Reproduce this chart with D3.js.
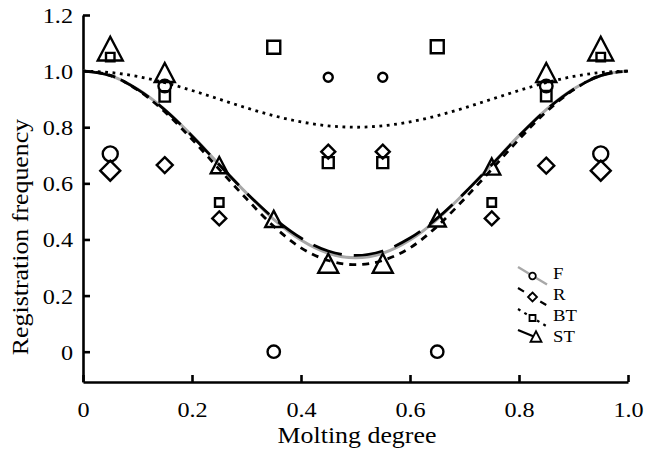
<!DOCTYPE html>
<html>
<head>
<meta charset="utf-8">
<script src="https://cdn.jsdelivr.net/npm/d3@7"></script>
<style>
  html, body { margin: 0; padding: 0; background: #fff; }
  svg { display: block; }
  text { font-family: "Liberation Serif", "Times New Roman", serif; fill: #000; }
</style>
</head>
<body>
<svg id="chart" width="647" height="455"></svg>
<script>
// Centres of the molting-degree classes
const binCenters = [0.05, 0.15, 0.25, 0.35, 0.45, 0.55, 0.65, 0.75, 0.85, 0.95];

// Observed registration frequency per class (null = not registered)
const obsF  = [0.705, 0.947, null, 0, 0.978, 0.978, 0, null, 0.947, 0.705];
const obsR  = [0.645, 0.665, 0.475, null, 0.713, 0.713, null, 0.475, 0.663, 0.645];
const obsBT = [1.05, 0.91, 0.532, 1.085, 0.674, 0.674, 1.087, 0.532, 0.911, 1.05];
const obsST = [1.08, 0.995, 0.665, 0.473, 0.315, 0.315, 0.475, 0.66, 0.995, 1.08];

// Fitted curves, sampled every 0.05 of molting degree
const curveX  = [0, 0.05, 0.1, 0.15, 0.2, 0.25, 0.3, 0.35, 0.4, 0.45, 0.5,
                 0.55, 0.6, 0.65, 0.7, 0.75, 0.8, 0.85, 0.9, 0.95, 1.0];
const fitF  = [1.000, 0.984, 0.936, 0.863, 0.770, 0.667, 0.565, 0.472, 0.398, 0.351, 0.335,
               0.351, 0.398, 0.472, 0.565, 0.667, 0.770, 0.863, 0.936, 0.984, 1.000];
const fitR  = [1.000, 0.985, 0.933, 0.855, 0.757, 0.650, 0.545, 0.447, 0.370, 0.325, 0.310,
               0.325, 0.370, 0.447, 0.545, 0.650, 0.757, 0.855, 0.933, 0.985, 1.000];
const fitBT = [1.000, 0.995, 0.981, 0.959, 0.931, 0.900, 0.869, 0.841, 0.819, 0.805, 0.800,
               0.805, 0.819, 0.841, 0.869, 0.900, 0.931, 0.959, 0.981, 0.995, 1.000];
const fitST = [1.000, 0.984, 0.935, 0.862, 0.769, 0.666, 0.566, 0.476, 0.405, 0.359, 0.343,
               0.359, 0.405, 0.476, 0.566, 0.666, 0.769, 0.862, 0.935, 0.984, 1.000];

// Series names as shown in the legend
const seriesNames = ["F", "R", "BT", "ST"];

// Axis ticks
const xTicks = [0, 0.2, 0.4, 0.6, 0.8, 1.0];
const xTickLabels = ["0", "0.2", "0.4", "0.6", "0.8", "1.0"];
const yTicks = [0, 0.2, 0.4, 0.6, 0.8, 1.0, 1.2];
const yTickLabels = ["0", "0.2", "0.4", "0.6", "0.8", "1.0", "1.2"];

// ---- styling (marker sizes in px, per class) ----
const markerPx = {
  F:  [7.5, 6.3, 0, 6.2, 4.5, 4.5, 6.2, 0, 6.3, 7.5],      // circle radius
  R:  [10, 8, 7, 0, 7, 7, 0, 7, 8, 10],                    // diamond half-diagonal
  BT: [8.5, 10.5, 8.5, 13, 11, 11, 13, 8.5, 10.5, 8.5],    // square side
  ST: [25, 20, 17, 17, 20, 20, 17, 17, 20, 25]             // triangle base
};
const lineStyle = {
  F:  { stroke: "#a8a8a8", width: 3,   dash: null },
  R:  { stroke: "#000",    width: 2.8, dash: "7 6" },
  BT: { stroke: "#000",    width: 2.8, dash: "2.8 4.6" },
  ST: { stroke: "#000",    width: 2.8, dash: "30 12" }
};

const svg = d3.select("#chart");
const x = d3.scaleLinear().domain([0, 1]).range([83, 628]);
const y = d3.scaleLinear().domain([-0.108, 1.2]).range([382, 15]);

// stretch text along its own direction
function widen(sel, k) {
  sel.each(function () {
    const L = this.getComputedTextLength();
    this.setAttribute("textLength", L * k);
    this.setAttribute("lengthAdjust", "spacingAndGlyphs");
  });
}

// axes
const xAxis = d3.axisBottom(x).tickValues(xTicks)
  .tickFormat((d, i) => xTickLabels[i]).tickSizeInner(-7).tickSizeOuter(0).tickPadding(0);
const yAxis = d3.axisLeft(y).tickValues(yTicks)
  .tickFormat((d, i) => yTickLabels[i]).tickSizeInner(-7).tickSizeOuter(0).tickPadding(0);

const gx = svg.append("g").attr("transform", "translate(0,382)").call(xAxis);
const gy = svg.append("g").attr("transform", "translate(83,0)").call(yAxis);
[gx, gy].forEach(g => {
  g.select(".domain").attr("stroke", "#000").attr("stroke-width", 2.6);
  g.selectAll(".tick line").attr("stroke", "#000").attr("stroke-width", 2.6);
  g.selectAll(".tick text").attr("font-size", 22).attr("fill", "#000");
});
gx.selectAll(".tick text").attr("y", 34.5).attr("dy", null);
gy.selectAll(".tick text").attr("x", -10).attr("dy", "0.34em");
widen(gx.selectAll(".tick text"), 1.1);
widen(gy.selectAll(".tick text"), 1.1);

// axis titles
const xt = svg.append("text").attr("x", 357).attr("y", 442.5)
  .attr("text-anchor", "middle").attr("font-size", 22.5).text("Molting degree");
widen(xt, 1.15);
const yt = svg.append("text").attr("transform", "translate(28,237) rotate(-90)")
  .attr("text-anchor", "middle").attr("font-size", 22.5).text("Registration frequency");
widen(yt, 1.15);

// fitted curves
const fits = { F: fitF, R: fitR, BT: fitBT, ST: fitST };
const line = d3.line().x(d => x(d[0])).y(d => y(d[1])).curve(d3.curveMonotoneX);
seriesNames.forEach(name => {
  const st = lineStyle[name];
  svg.append("path")
    .datum(curveX.map((v, i) => [v, fits[name][i]]))
    .attr("d", line)
    .attr("fill", "none")
    .attr("stroke", st.stroke)
    .attr("stroke-width", st.width)
    .attr("stroke-dasharray", st.dash);
});

// marker shapes
function circlePath(r) { return `M${r},0A${r},${r} 0 1,1 ${-r},0A${r},${r} 0 1,1 ${r},0Z`; }
const shapes = {
  F:  circlePath,
  R:  s => `M0,${-s}L${s},0L0,${s}L${-s},0Z`,
  BT: s => `M${-s / 2},${-s / 2}H${s / 2}V${s / 2}H${-s / 2}Z`,
  ST: s => { const h = s * 0.95; return `M0,${-h / 2}L${s / 2},${h / 2}L${-s / 2},${h / 2}Z`; }
};

const observed = { F: obsF, R: obsR, BT: obsBT, ST: obsST };
seriesNames.forEach(name => {
  const pts = binCenters.map((c, i) => ({ c, v: observed[name][i], s: markerPx[name][i] }))
    .filter(d => d.v !== null);
  svg.append("g").selectAll("path").data(pts).join("path")
    .attr("transform", d => `translate(${x(d.c)},${y(d.v)})`)
    .attr("d", d => shapes[name](d.s))
    .attr("fill", "none")
    .attr("stroke", "#000")
    .attr("stroke-width", 2.4);
});

// legend
const legendMarker = { F: 3.3, R: 4.5, BT: 6, ST: 11 };
const leg = svg.append("g").attr("transform", "translate(0,279)");
seriesNames.forEach((name, i) => {
  const g = leg.append("g").attr("transform", `translate(0,${i * 21})`);
  const st = lineStyle[name];
  const end = name === "ST" ? [535, -5] : [547, 5.5];
  g.append("line").attr("x1", 518).attr("y1", -12).attr("x2", end[0]).attr("y2", end[1])
    .attr("stroke", st.stroke).attr("stroke-width", st.width - 0.6)
    .attr("stroke-dasharray", name === "ST" ? null : st.dash);
  const mpos = name === "ST" ? [536, -5.5] : [532.5, -3];
  g.append("path").attr("transform", `translate(${mpos[0]},${mpos[1]})`)
    .attr("d", shapes[name](legendMarker[name]))
    .attr("fill", "#fff").attr("stroke", "#000").attr("stroke-width", 1.8);
  const t = g.append("text").attr("x", 553).attr("y", 0).attr("font-size", 17).text(name);
  widen(t, 1.1);
});
</script>
</body>
</html>
